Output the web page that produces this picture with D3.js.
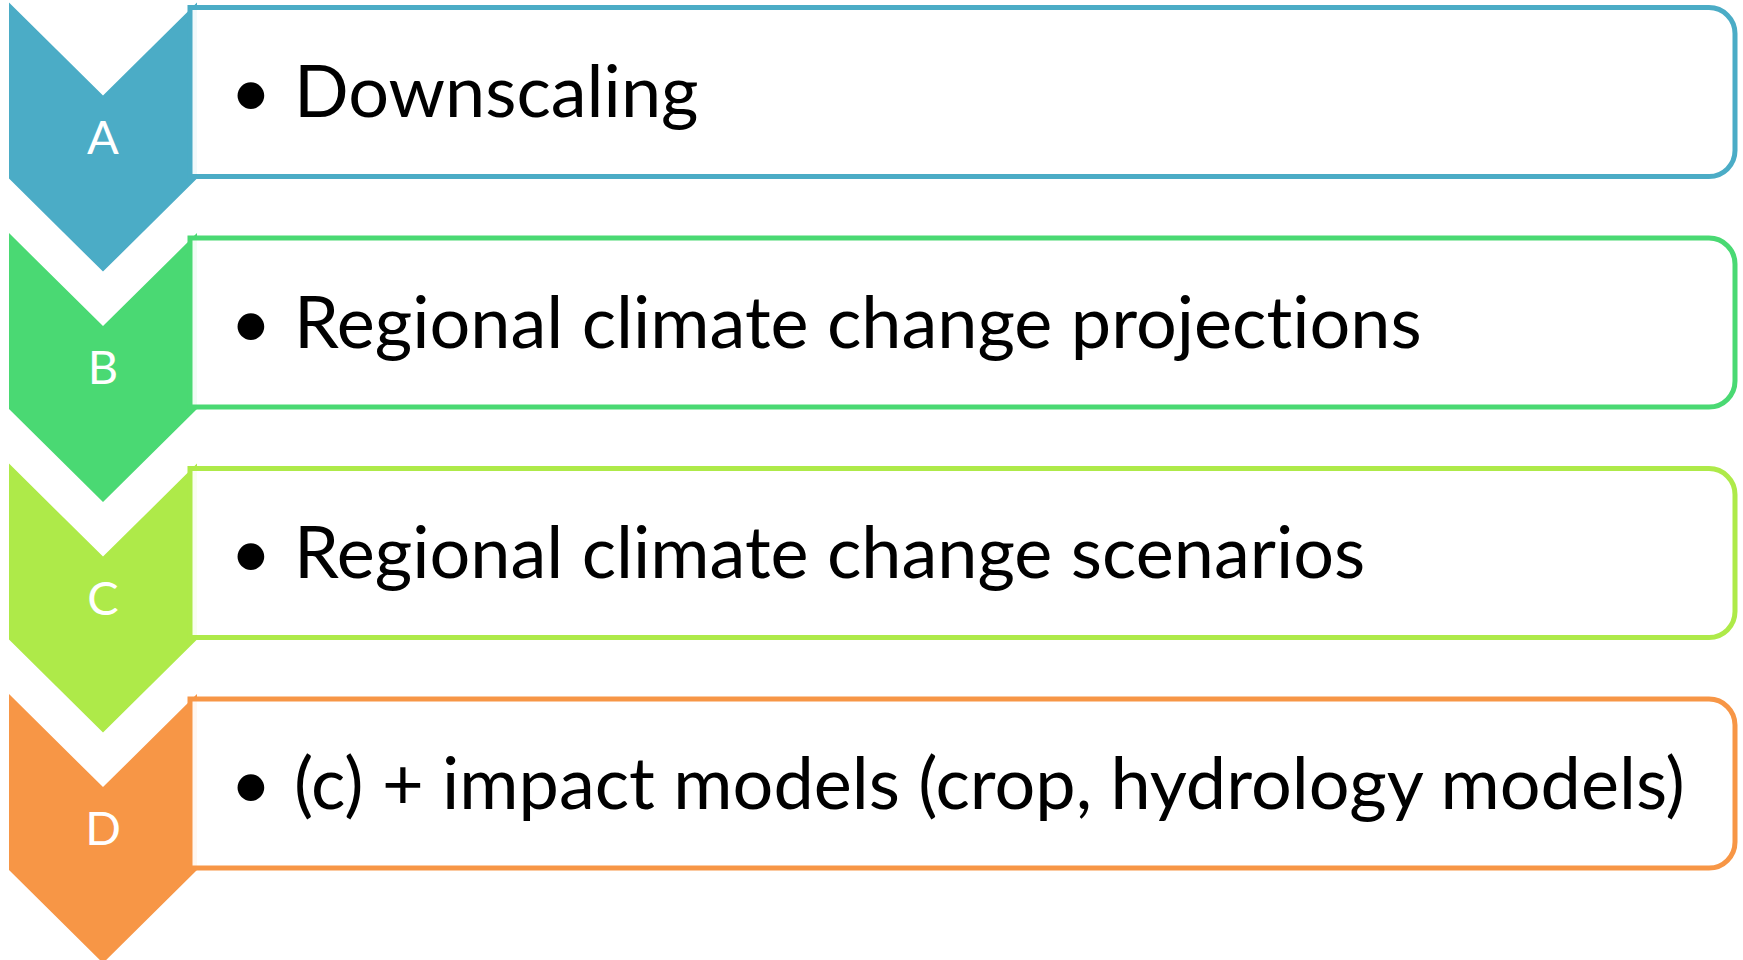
<!DOCTYPE html>
<html>
<head>
<meta charset="utf-8">
<title>Vertical chevron list</title>
<style>
body { margin: 0; background: #fff; }
text { font-family: Lato, "Open Sans", sans-serif; font-variant-ligatures: none; }
</style>
</head>
<body>
<script src="https://cdn.jsdelivr.net/npm/d3@7"></script>
<script>
// steps of the list, top to bottom
var steps = ["A", "B", "C", "D"];
var items = [
  "Downscaling",
  "Regional climate change projections",
  "Regional climate change scenarios",
  "(c) + impact models (crop, hydrology models)"
];
var colors = ["#4bacc6", "#4ad973", "#aeea49", "#f79646"];

var width = 1743, height = 960;

// vertical position of each step
var y = d3.scaleBand()
    .domain(steps)
    .range([2.6, 2.6 + 4 * 230.5]);

var color = d3.scaleOrdinal(steps, colors);

var chev = {x: 9, w: 188, side: 176, depth: 93},
    box = {left: 190, right: 1735, dy: 5, h: 169, r: 26};

var svg = d3.select("body").append("svg")
    .attr("width", width)
    .attr("height", height);

var rows = svg.selectAll(".row")
    .data(steps)
  .enter().append("g")
    .attr("class", "row")
    .attr("transform", function(d) { return "translate(0," + y(d) + ")"; });

rows.append("path")
    .attr("d", function() {
      var p = d3.path(), x0 = chev.x, x1 = chev.x + chev.w, xm = chev.x + chev.w / 2;
      p.moveTo(x0, 0);
      p.lineTo(xm, chev.depth);
      p.lineTo(x1, 0);
      p.lineTo(x1, chev.side);
      p.lineTo(xm, chev.side + chev.depth);
      p.lineTo(x0, chev.side);
      p.closePath();
      return p.toString();
    })
    .style("fill", color);

rows.append("text")
    .attr("x", chev.x + chev.w / 2)
    .attr("y", 151)
    .style("text-anchor", "middle")
    .style("fill", "#fff")
    .style("font-size", "47px")
    .text(function(d) { return d; });

rows.append("path")
    .attr("d", function() {
      var p = d3.path(), t = box.dy, b = box.dy + box.h, r = box.r;
      p.moveTo(box.left, t);
      p.lineTo(box.right - r, t);
      p.arcTo(box.right, t, box.right, t + r, r);
      p.lineTo(box.right, b - r);
      p.arcTo(box.right, b, box.right - r, b, r);
      p.lineTo(box.left, b);
      p.closePath();
      return p.toString();
    })
    .style("fill", "rgba(255,255,255,0.92)")
    .style("stroke", color)
    .style("stroke-width", 5);

var midY = box.dy + box.h / 2;

rows.append("text")
    .attr("x", box.left + 61)
    .attr("y", midY + 25)
    .style("text-anchor", "middle")
    .style("fill", "#000")
    .style("font-size", "72px")
    .text("\u2022");

rows.append("text")
    .attr("x", box.left + 104)
    .attr("y", midY + 25)
    .style("fill", "#000")
    .style("font-size", "72px")
    .text(function(d, i) { return items[i]; });
</script>
</body>
</html>
